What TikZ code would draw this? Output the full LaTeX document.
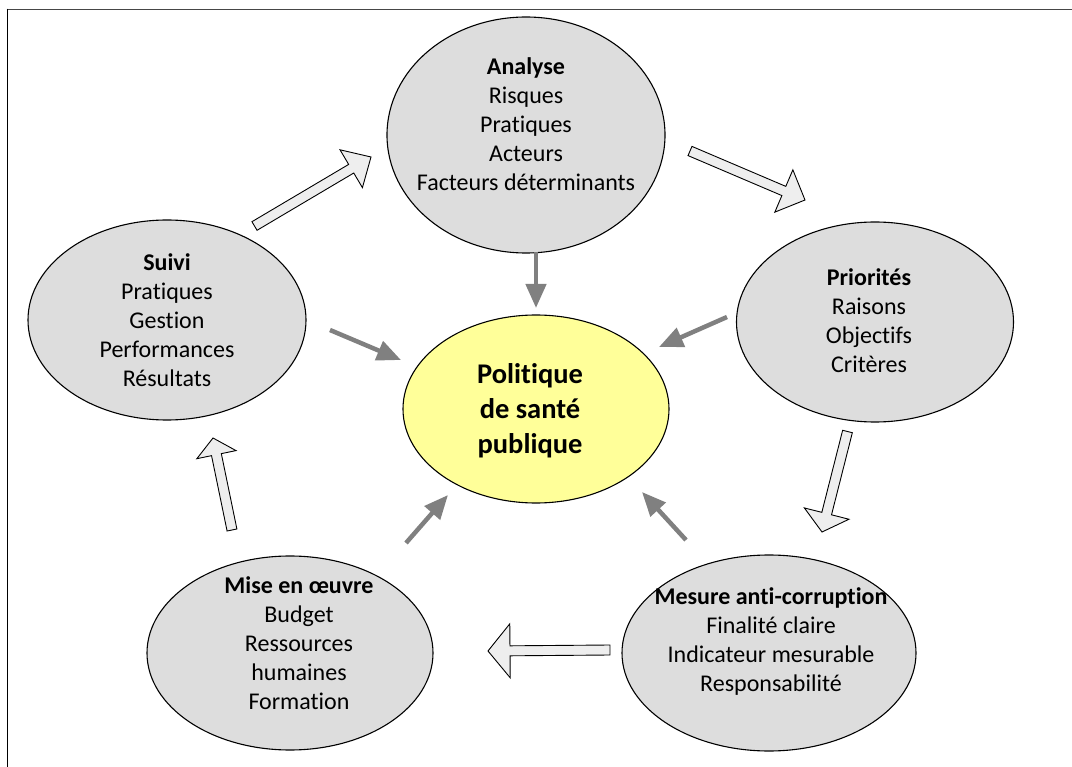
\documentclass[tikz,border=0pt]{standalone}
\usepackage{fontspec}
\setmainfont{Carlito}[Ligatures=NoCommon]
\usetikzlibrary{calc,shapes.geometric,arrows.meta}
\definecolor{bubblegray}{RGB}{221,221,221}
\definecolor{coreyellow}{RGB}{255,255,153}
\definecolor{hollowfill}{RGB}{238,238,238}
\definecolor{pointgray}{RGB}{128,128,128}
\definecolor{framegray}{RGB}{70,70,70}
\tikzset{
  bubble/.style={ellipse, draw=black, line width=1.1pt, fill=bubblegray, inner sep=0pt},
  core/.style={bubble, fill=coreyellow},
  txt/.style={align=center, inner sep=0pt, font=\fontsize{24}{29}\selectfont},
  coretxt/.style={align=center, inner sep=0pt, font=\fontsize{28.5}{35}\selectfont\bfseries},
  hollow/.style={draw=black, line width=0.9pt, fill=hollowfill, line join=miter},
  pointer/.style={draw=pointgray, line width=4.5pt, -{Triangle[length=24pt,width=20pt]}},
}
\newcommand{\hollowarrow}[4]{%
  \draw[hollow] ($(#1)!5pt!90:(#2)$)
    -- ($(#2)!#4!(#1)!5pt!90:(#2)$)
    -- ($(#2)!#4!(#1)!#3!90:(#2)$)
    -- (#2)
    -- ($(#2)!#4!(#1)!#3!-90:(#2)$)
    -- ($(#2)!#4!(#1)!5pt!-90:(#2)$)
    -- ($(#1)!5pt!-90:(#2)$) -- cycle;}
\begin{document}
\begin{tikzpicture}[x=1pt,y=-1pt]
\useasboundingbox (0,0) rectangle (1072,767);
% frame
\draw[framegray, line width=1.6pt] (6.7,9.5) -- (1072,9.5);
\draw[black, line width=1.6pt] (7.5,8.7) -- (7.5,767);

% ellipses
\node[bubble, minimum width=278pt, minimum height=236pt] (analyse) at (526,135) {};
\node[bubble, minimum width=277pt, minimum height=200pt] (priorites) at (875,322) {};
\node[bubble, minimum width=278pt, minimum height=200pt] (suivi) at (167,320) {};
\node[core, minimum width=266pt, minimum height=188pt] (politique) at (536,409) {};
\node[bubble, minimum width=286pt, minimum height=194pt] (mise) at (290,653) {};
\node[bubble, minimum width=294pt, minimum height=196pt] (mesure) at (769,653) {};

% texts
\node[txt] (analyse-t) at (526,124) {\textbf{Analyse}\\Risques\\Pratiques\\Acteurs\\Facteurs déterminants};
\node[txt] (priorites-t) at (869,321) {\textbf{Priorités}\\Raisons\\Objectifs\\Critères};
\node[txt] (suivi-t) at (167,320) {\textbf{Suivi}\\Pratiques\\Gestion\\Performances\\Résultats};
\node[coretxt] (politique-t) at (530,411) {Politique\\de santé\\publique};
\node[txt] (mise-t) at (299,643) {\textbf{Mise en œuvre}\\Budget\\Ressources\\humaines\\Formation};
\node[txt] (mesure-t) at (771,642) {\textbf{Mesure anti-corruption}\\Finalité claire\\Indicateur mesurable\\Responsabilité};

% hollow cycle arrows
\coordinate (c1a) at (254.5,226); \coordinate (c1b) at (371,157);
\coordinate (c2a) at (690,151);   \coordinate (c2b) at (805,200);
\coordinate (c3a) at (847.5,431.5); \coordinate (c3b) at (822,532);
\coordinate (c4a) at (610,650);   \coordinate (c4b) at (488,651);
\coordinate (c5a) at (232,530);   \coordinate (c5b) at (213,438);
\hollowarrow{c1a}{c1b}{22pt}{23pt}
\hollowarrow{c2a}{c2b}{23pt}{23pt}
\hollowarrow{c3a}{c3b}{23pt}{19pt}
\hollowarrow{c4a}{c4b}{27pt}{22pt}
\hollowarrow{c5a}{c5b}{20pt}{17pt}

% gray pointers to the centre
\coordinate (p1a) at (536,252); \coordinate (p1b) at (536,308);
\coordinate (p2a) at (727,317); \coordinate (p2b) at (659,347);
\coordinate (p3a) at (330,330); \coordinate (p3b) at (401,360);
\coordinate (p4a) at (406,543); \coordinate (p4b) at (448,495);
\coordinate (p5a) at (686,540); \coordinate (p5b) at (642,492);
\draw[pointer] (p1a) -- (p1b);
\draw[pointer] (p2a) -- (p2b);
\draw[pointer] (p3a) -- (p3b);
\draw[pointer] (p4a) -- (p4b);
\draw[pointer] (p5a) -- (p5b);
\end{tikzpicture}
\end{document}
